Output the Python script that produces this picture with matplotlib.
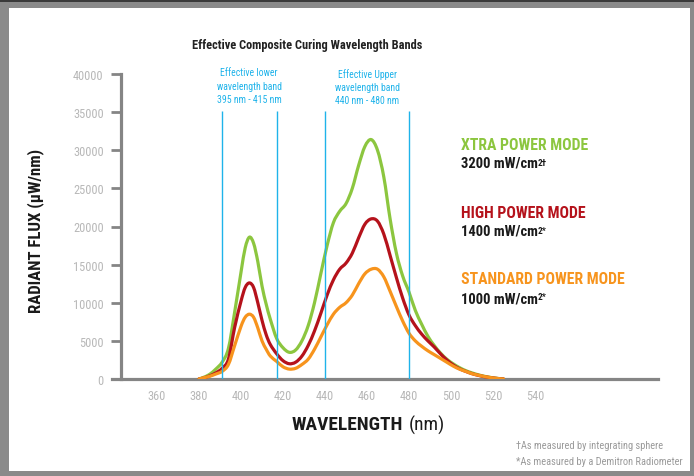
import matplotlib
matplotlib.use('Agg')
import matplotlib.pyplot as plt
from matplotlib.patches import Rectangle, PathPatch
from matplotlib.path import Path
from matplotlib import font_manager as fm
from matplotlib.font_manager import FontProperties

W, H = 694, 477
plt.rcParams['font.family'] = ['Liberation Sans', 'DejaVu Sans']

# ---------------- data ----------------
wavelength = [380, 382, 385, 388, 391, 394, 397, 400, 402, 404, 406, 408, 410, 412, 414,
              417, 420, 423, 426, 429, 432, 435, 438, 441, 444, 447, 450, 453, 456, 459,
              462, 465, 468, 471, 474, 477, 480, 483, 486, 489, 492, 495, 498, 501, 504,
              507, 510, 513, 516, 519, 522, 525]
xtra = [0, 200, 600, 1300, 2200, 4000, 8800, 14000, 17200, 18600, 17800, 15400, 12200, 9800, 7800,
        5300, 4100, 3500, 3800, 5000, 7000, 10000, 13800, 17500, 20500, 22000, 23000, 25000, 28000, 30500,
        31400, 30000, 26500, 21000, 16500, 13500, 11400, 9000, 7200, 5600, 4400, 3400, 2600, 2000, 1500,
        1100, 800, 550, 350, 200, 80, 0]
high = [0, 120, 400, 800, 1400, 2600, 6800, 10200, 12000, 12600, 12000, 10000, 7700, 5800, 4500,
        3300, 2400, 2000, 2200, 3000, 4400, 6300, 8600, 11000, 13000, 14400, 15200, 16500, 18500, 20300,
        21000, 20700, 19000, 16200, 13300, 10600, 8400, 7000, 5900, 5000, 4200, 3300, 2500, 1850, 1350,
        1000, 700, 480, 300, 170, 70, 0]
standard = [0, 150, 350, 650, 1000, 1900, 4400, 6900, 8100, 8500, 8100, 6700, 5000, 3900, 3000,
            2300, 1600, 1300, 1400, 1900, 2600, 3900, 5500, 7100, 8500, 9400, 10000, 11000, 12500, 13800,
            14400, 14400, 13400, 11500, 9500, 7600, 6000, 5000, 4300, 3700, 3200, 2700, 2200, 1700, 1300,
            1000, 700, 500, 320, 180, 70, 0]

band_lines = [391, 417, 440, 480]
x_ticks = [360, 380, 400, 420, 440, 460, 480, 500, 520, 540]
y_ticks = [0, 5000, 10000, 15000, 20000, 25000, 30000, 35000, 40000]

title = 'Effective Composite Curing Wavelength Bands'
lower_band_text = ['Effective lower', 'wavelength band', '395 nm - 415 nm']
upper_band_text = ['Effective Upper', 'wavelength band', '440 nm - 480 nm']
modes = ['XTRA POWER MODE', 'HIGH POWER MODE', 'STANDARD POWER MODE']
powers = ['3200 mW/cm', '1400 mW/cm', '1000 mW/cm']
power_sups = ['2\u2020', '2*', '2*']
footnotes = ['\u2020As measured by integrating sphere', '*As measured by a Demitron Radiometer']

GREEN = '#8cc63f'
RED = '#b5121b'
ORANGE = '#f7941d'
BLUE = '#1fb3ea'
AXIS = '#858585'
TICKLAB = '#b8b8b8'


# ---------------- font selection (narrow if available) ----------------
def _num(v, table, default):
    if isinstance(v, (int, float)):
        return v
    return table.get(str(v), default)


def pick_font(bold):
    prefs = [('Liberation Sans Narrow', False), ('Roboto Condensed', False),
             ('Open Sans Condensed', False), ('Roboto', True), ('Open Sans', True),
             ('Noto Sans', True), ('DejaVu Sans', True)]
    for name, need_cond in prefs:
        best = None
        for e in fm.fontManager.ttflist:
            if e.name != name or e.style != 'normal':
                continue
            st = _num(e.stretch, fm.stretch_dict, 500)
            if need_cond and st >= 500:
                continue
            wt = _num(e.weight, fm.weight_dict, 400)
            if bold and wt < 600:
                continue
            if not bold and wt >= 600:
                continue
            score = abs(wt - (700 if bold else 400))
            if best is None or score < best[0]:
                best = (score, e.fname)
        if best is not None:
            return best[1]
    return None


REG = pick_font(False)
BOLD = pick_font(True)


def fprop(bold, size):
    f = BOLD if bold else REG
    if f is None:
        return FontProperties(family=['Liberation Sans', 'DejaVu Sans'],
                              weight='bold' if bold else 'normal', size=size)
    return FontProperties(fname=f, size=size)


# ---------------- figure ----------------
fig = plt.figure(figsize=(W / 100, H / 100), dpi=100)
fig.patch.set_facecolor('#8a8a8a')
fig.add_artist(Rectangle((9 / W, 1 - 472 / H), (690 - 9) / W, (472 - 9) / H,
                         transform=fig.transFigure, facecolor='white', edgecolor='none', zorder=0))
fig.add_artist(Rectangle((0, 1 - 3 / H), 1, 3 / H, transform=fig.transFigure,
                         facecolor='#3a3a3a', edgecolor='none', zorder=0))
renderer = fig.canvas.get_renderer()


def fx(px):
    return px / W


def fy(py):
    return 1 - py / H


def measure(s, bold, size):
    t = fig.text(0, 0, s, fontproperties=fprop(bold, size))
    w = t.get_window_extent(renderer).width
    t.remove()
    return w


def fit_size(s, target_w, bold, size0):
    return size0 * target_w / measure(s, bold, size0)


def fit_text(x, y, s, target_w, bold, size0, **kw):
    size = fit_size(s, target_w, bold, size0)
    return fig.text(fx(x), fy(y), s, fontproperties=fprop(bold, size), **kw)


ax = fig.add_axes([fx(112), fy(380), (658 - 112) / W, (380 - 75) / H])
ax.patch.set_visible(False)
ax.set_xlim(360 - 45 / 2.1, 360 + 501 / 2.1)
ax.set_ylim(0, 40000)

for s in ('top', 'right'):
    ax.spines[s].set_visible(False)
ax.spines['left'].set_position(('data', 360 - 36 / 2.1))
ax.spines['left'].set_color(AXIS)
ax.spines['left'].set_linewidth(2.3)
ax.spines['bottom'].set_color(AXIS)
ax.spines['bottom'].set_linewidth(2.3)

ax.set_yticks(y_ticks)
ax.set_yticklabels([str(v) for v in y_ticks])
ax.set_xticks(x_ticks)
ax.set_xticklabels([str(v) for v in x_ticks])
ax.tick_params(axis='y', direction='out', length=7.5, width=2.0, color=AXIS,
               labelcolor=TICKLAB, pad=5)
ax.tick_params(axis='x', length=0, labelcolor=TICKLAB, pad=7)
tick_size = fit_size('40000', 31, False, 9)
for lbl in ax.get_yticklabels() + ax.get_xticklabels():
    lbl.set_fontproperties(fprop(False, tick_size))


def smooth_path(xs, ys):
    """Catmull-Rom style cubic Bezier path through the data points."""
    n = len(xs)
    verts = [(xs[0], ys[0])]
    codes = [Path.MOVETO]
    for i in range(n - 1):
        i0 = max(i - 1, 0)
        i3 = min(i + 2, n - 1)
        c1 = (xs[i] + (xs[i + 1] - xs[i0]) / 6.0, ys[i] + (ys[i + 1] - ys[i0]) / 6.0)
        c2 = (xs[i + 1] - (xs[i3] - xs[i]) / 6.0, ys[i + 1] - (ys[i3] - ys[i]) / 6.0)
        verts += [c1, c2, (xs[i + 1], ys[i + 1])]
        codes += [Path.CURVE4] * 3
    return Path(verts, codes)


for ys, col, z in ((xtra, GREEN, 3), (high, RED, 4), (standard, ORANGE, 5)):
    ax.add_patch(PathPatch(smooth_path(wavelength, ys), facecolor='none', edgecolor=col,
                           lw=2.3, joinstyle='round', capstyle='round', zorder=z))
ax.vlines(band_lines, 0, 35150, colors=BLUE, lw=1.0, zorder=6)

# ---------------- texts ----------------
fit_text(307.5, 46, title, 230, True, 8.5, ha='center', va='center', color='#222222')

band_size = fit_size(lower_band_text[2], 65, False, 6.8)
for lines, cx, y0, dy in ((lower_band_text, 249, 73.3, 13.3), (upper_band_text, 367.5, 75, 12.9)):
    for i in range(3):
        fig.text(fx(cx), fy(y0 + dy * i), lines[i], ha='center', va='center',
                 fontproperties=fprop(False, band_size), color=BLUE)

ylab_size = fit_size('RADIANT FLUX (\u03bcW/nm)', 164, True, 12)
fig.text(fx(36), fy(231), 'RADIANT FLUX (\u03bcW/nm)', rotation=90, ha='center', va='center',
         fontproperties=fprop(True, ylab_size), color='#1a1a1a')

xl_size = fit_size('WAVELENGTH', 112, True, 13.5)
fig.text(fx(292), fy(425), 'WAVELENGTH', ha='left', va='center',
         fontproperties=fprop(True, xl_size), color='#1a1a1a')
fig.text(fx(409), fy(425), '(nm)', ha='left', va='center',
         fontproperties=fprop(False, xl_size), color='#1a1a1a')

mode_colors = [GREEN, RED, ORANGE]
mode_y = [145, 213, 280]
power_y = [164, 232, 299]
msize = fit_size(modes[0], 128, True, 11.3)
psize = fit_size(powers[0], 77, True, 8.5)
for name, col, y1, ptxt, sup, y2 in zip(modes, mode_colors, mode_y, powers, power_sups, power_y):
    fig.text(fx(461.5), fy(y1), name, ha='left', va='center',
             fontproperties=fprop(True, msize), color=col)
    tp = fig.text(fx(461.5), fy(y2), ptxt, ha='left', va='center',
                  fontproperties=fprop(True, psize), color='#1a1a1a')
    b = tp.get_window_extent(renderer)
    fig.text((b.x1 - 0.8) / W, (b.y1 - 1.5) / H, sup, ha='left', va='top',
             fontproperties=fprop(True, psize * 0.62), color='#1a1a1a')

fsize = fit_size(footnotes[1], 166, False, 6.5)
for i, ft in enumerate(footnotes):
    fig.text(fx(516), fy(446 + 15.7 * i), ft, ha='left', va='center',
             fontproperties=fprop(False, fsize), color='#9a9a9a')

fig.savefig('out.png', dpi=100, facecolor=fig.get_facecolor())
